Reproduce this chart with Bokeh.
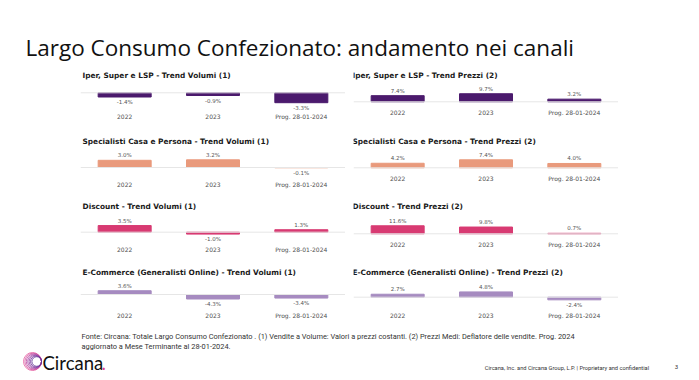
from bokeh.plotting import figure
from bokeh.layouts import column, row
from bokeh.models import Label, Span, Range1d, FactorRange, ColumnDataSource
from bokeh.core.properties import value
from bokeh.embed import file_html
from bokeh.resources import INLINE

# ---------------- data ----------------
main_title = "Largo Consumo Confezionato: andamento nei canali"
categories = ["2022", "2023", "Prog. 28-01-2024"]

iper_volumi = [-1.4, -0.9, -3.3]
iper_prezzi = [7.4, 9.7, 3.2]
spec_volumi = [3.0, 3.2, -0.1]
spec_prezzi = [4.2, 7.4, 4.0]
disc_volumi = [3.5, -1.0, 1.3]
disc_prezzi = [11.6, 9.8, 0.7]
ecom_volumi = [3.6, -4.3, -3.4]
ecom_prezzi = [2.7, 4.8, -2.4]

panel_titles = [
    "Iper, Super e LSP - Trend Volumi (1)",
    "Iper, Super e LSP - Trend Prezzi (2)",
    "Specialisti Casa e Persona - Trend Volumi (1)",
    "Specialisti Casa e Persona - Trend Prezzi (2)",
    "Discount - Trend Volumi (1)",
    "Discount - Trend Prezzi (2)",
    "E-Commerce (Generalisti Online) - Trend Volumi (1)",
    "E-Commerce (Generalisti Online) - Trend Prezzi (2)",
]
footnote_1 = ("Fonte: Circana: Totale Largo Consumo Confezionato . (1) Vendite a Volume: "
              "Valori a prezzi costanti. (2) Prezzi Medi: Deflatore delle vendite. Prog. 2024")
footnote_2 = "aggiornato a Mese Terminante al 28-01-2024."
legal = "Circana, Inc. and Circana Group, L.P. |  Proprietary and confidential"
page_no = "3"

# ---------------- styles ----------------
C_IPER = "#4B1A6D"
C_SPEC = "#E99A7C"
C_DISC = "#D83A72"
C_ECOM = "#A68BC0"
FONT = "DejaVu Sans"
W = 699

def bare(fig):
    fig.toolbar_location = None
    fig.outline_line_color = None
    fig.grid.visible = False
    fig.background_fill_color = "white"
    fig.border_fill_color = "white"
    return fig

def make_panel(title, vals, color, left, row_top, row_bottom, zero_px, px_per, cat_y, title_y):
    frame_top = row_top
    frame_bottom = cat_y - 4
    fh = int(round(frame_bottom - frame_top))
    frame_bottom = frame_top + fh
    bl = 80 if left else 8
    p = figure(x_range=FactorRange(*categories, range_padding=0),
               y_range=Range1d(-(frame_bottom - zero_px) / px_per, (zero_px - frame_top) / px_per),
               frame_width=265, frame_height=fh,
               min_border_left=bl, min_border_right=0, min_border_top=0,
               min_border_bottom=int(row_bottom - row_top - fh),
               y_axis_location=None, x_axis_location="below",
               output_backend="svg", toolbar_location=None, title=None)
    bare(p)
    ax = p.xaxis[0]
    ax.axis_line_color = None
    ax.major_tick_line_color = None
    ax.minor_tick_line_color = None
    ax.major_tick_out = 0
    ax.major_label_standoff = 2
    ax.major_label_text_font = FONT
    ax.major_label_text_font_size = "6px"
    ax.major_label_text_color = "#505050"

    p.add_layout(Span(location=0, dimension="width", line_color="#E6E6E6", line_width=1))
    src = ColumnDataSource(dict(cat=categories, val=vals))
    p.vbar(x="cat", top="val", width=0.6, color=color, source=src)

    lbl = ["%.1f%%" % v for v in vals]
    pos = ColumnDataSource(dict(cat=[c for c, v in zip(categories, vals) if v >= 0],
                                val=[v for v in vals if v >= 0],
                                lab=[l for l, v in zip(lbl, vals) if v >= 0]))
    neg = ColumnDataSource(dict(cat=[c for c, v in zip(categories, vals) if v < 0],
                                val=[v for v in vals if v < 0],
                                lab=[l for l, v in zip(lbl, vals) if v < 0]))
    common = dict(text="lab", text_align="center", text_font=value(FONT),
                  text_font_size="5.5px", text_color="#555555")
    p.text(x="cat", y="val", source=pos, text_baseline="bottom", y_offset=-2, **common)
    p.text(x="cat", y="val", source=neg, text_baseline="top", y_offset=2, **common)

    p.add_layout(Label(x=2 if left else -1, y=frame_bottom - title_y,
                       x_units="screen", y_units="screen", text=title,
                       text_baseline="middle", text_font=FONT, text_font_style="bold",
                       text_font_size="7.4px", text_color="#1A1A1A"))
    return p

# header
hdr = figure(x_range=Range1d(0, W), y_range=Range1d(66, 0), width=W, height=66,
             min_border=0, x_axis_location=None, y_axis_location=None,
             output_backend="svg", toolbar_location=None, title=None)
bare(hdr)
hdr.text(x=[25], y=[47], text=[main_title], text_font=value("Open Sans"),
         text_font_size="22.5px", text_color="#111111", text_baseline="alphabetic")

rows_spec = [
    # (row_top, row_bottom, left params, right params)
    (66, 132, (92.3, 3.0, 114.3, 75), (101.3, 0.83, 110, 75)),
    (132, 197, (167.0, 2.4, 181.7, 140.7), (167.3, 1.08, 176, 140.7)),
    (197, 263, (231.7, 1.9, 246.7, 206), (233.3, 0.69, 241.7, 206)),
    (263, 325, (294.0, 1.05, 312.7, 272.3), (296.7, 1.1, 312.7, 272.3)),
]
series = [(iper_volumi, iper_prezzi, C_IPER), (spec_volumi, spec_prezzi, C_SPEC),
          (disc_volumi, disc_prezzi, C_DISC), (ecom_volumi, ecom_prezzi, C_ECOM)]

rows = []
for i, ((rt, rb, lp, rp), (vv, pv, col)) in enumerate(zip(rows_spec, series)):
    lf = make_panel(panel_titles[2 * i], vv, col, True, rt, rb, *lp)
    rf = make_panel(panel_titles[2 * i + 1], pv, col, False, rt, rb, *rp)
    rows.append(row(lf, rf, spacing=0))

# footer
ftr = figure(x_range=Range1d(0, W), y_range=Range1d(380, 325), width=W, height=55,
             min_border=0, x_axis_location=None, y_axis_location=None,
             output_backend="svg", toolbar_location=None, title=None)
bare(ftr)
ftr.text(x=[81, 81], y=[336, 346], text=[footnote_1, footnote_2], text_font=value("Roboto"),
         text_font_size="7.4px", text_color="#333333", text_baseline="middle")
ftr.text(x=[650], y=[367], text=[legal], text_font=value("Roboto"), text_font_size="5.7px",
         text_color="#333333", text_baseline="middle", text_align="right")
ftr.text(x=[676], y=[366], text=[page_no], text_font=value("Roboto"), text_font_size="6px",
         text_color="#333333", text_baseline="middle", text_align="center")
# logo
ring_r = [9, 8.3, 7.6, 6.9, 6.2, 5.5, 4.8]
ring_c = ["#E45C9E", "#D452A0", "#BC49A2", "#A242A3", "#8A3BA0", "#73349A", "#5E2D92"]
ftr.circle(x=[41 - r for r in ring_r], y=[361] * len(ring_r), radius=ring_r,
           fill_color=None, line_color=ring_c, line_width=0.8)
ftr.text(x=[42], y=[362], text=["Circana"], text_font=value("Lato"), text_font_size="18.5px",
         text_color="#111111", text_baseline="middle")
ftr.text(x=[101], y=[362], text=["."], text_font=value("Lato"), text_font_size="18.5px",
         text_color="#E0408A", text_baseline="middle")

layout = column(hdr, *rows, ftr, spacing=0)
open("out.html", "w").write(file_html(layout, INLINE))
